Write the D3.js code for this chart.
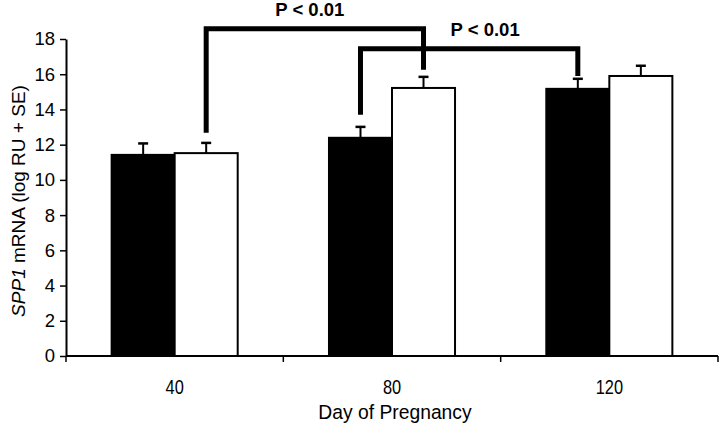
<!DOCTYPE html>
<html><head><meta charset="utf-8">
<script src="https://cdn.jsdelivr.net/npm/d3@7"></script>
<style>
html,body{margin:0;padding:0;background:#fff;}
svg{display:block;font-family:"Liberation Sans",Arial,sans-serif;}
</style></head>
<body>
<svg id="chart" width="720" height="426"></svg>
<script>
// ---- data ----
const days = ["40", "80", "120"];
const seriesNames = ["black", "white"];
const blackMeans = [11.42, 12.39, 15.17];
const blackSE    = [0.65, 0.62, 0.57];
const whiteMeans = [11.52, 15.22, 15.9];
const whiteSE    = [0.58, 0.63, 0.58];
const yTicks = [0, 2, 4, 6, 8, 10, 12, 14, 16, 18];
const yLabelItalic = "SPP1";
const yLabelRest = " mRNA (log RU + SE)";
const xLabel = "Day of Pregnancy";
// significance brackets: [dayIndex, seriesIndex] endpoints, leg bottoms and top (data units)
const brackets = [
  {from: [0, 1], to: [1, 1], fromY: 12.67, toY: 16.25, top: 18.58, label: "P < 0.01"},
  {from: [1, 0], to: [2, 0], fromY: 13.7, toY: 15.9, top: 17.44, label: "P < 0.01"}
];

(function () {
const svg = d3.select("#chart");
const pL = 66, pR = 718, pT = 39, pB = 356;

const x = d3.scaleBand().domain(days).range([pL, pR]).padding(0);
const y = d3.scaleLinear().domain([0, 18]).range([pB, pT]);
const barW = x.bandwidth() * 0.29;
const sub = d3.scaleBand().domain(seriesNames).range([-barW, barW]);

const rows = days.map((d, i) => ({day: d, vals: [
  {s: "black", v: blackMeans[i], se: blackSE[i]},
  {s: "white", v: whiteMeans[i], se: whiteSE[i]}
]}));

function cx(di, si) { return x(days[di]) + x.bandwidth() / 2 + sub(seriesNames[si]) + sub.bandwidth() / 2; }

const g = svg.append("g");
rows.forEach(r => {
  r.vals.forEach(b => {
    const bx = x(r.day) + x.bandwidth() / 2 + sub(b.s);
    const ex = bx + sub.bandwidth() / 2;
    g.append("line").attr("x1", ex).attr("x2", ex).attr("y1", y(b.v)).attr("y2", y(b.v + b.se))
      .attr("stroke", "#000").attr("stroke-width", 2);
    g.append("line").attr("x1", ex - 5).attr("x2", ex + 5).attr("y1", y(b.v + b.se)).attr("y2", y(b.v + b.se))
      .attr("stroke", "#000").attr("stroke-width", 2.5);
    g.append("rect").attr("x", bx).attr("y", y(b.v)).attr("width", sub.bandwidth())
      .attr("height", y(0) - y(b.v))
      .attr("fill", b.s === "black" ? "#000" : "#fff").attr("stroke", "#000").attr("stroke-width", 2);
  });
});

// ---- axes ----
const yAxis = d3.axisLeft(y).tickValues(yTicks).tickSize(6).tickSizeOuter(0).tickPadding(5);
const ya = svg.append("g").attr("transform", `translate(${pL},0)`).call(yAxis);
ya.select(".domain").attr("stroke-width", 2);
ya.selectAll(".tick line").attr("stroke-width", 1.5);
ya.selectAll("text").attr("font-size", 18.5).attr("fill", "#000").attr("font-family", "Liberation Sans, Arial, sans-serif");

const xa = svg.append("g").attr("transform", `translate(0,${pB})`);
xa.append("line").attr("x1", pL).attr("x2", pR).attr("y1", 0).attr("y2", 0).attr("stroke", "#000").attr("stroke-width", 2);
const bounds = days.map(d => x(d)).concat([pR]);
xa.selectAll("line.tk").data(bounds).enter().append("line").attr("class", "tk")
  .attr("x1", d => d).attr("x2", d => d).attr("y1", 0).attr("y2", 6).attr("stroke", "#000").attr("stroke-width", 1.5);
xa.selectAll("text").data(days).enter().append("text")
  .attr("transform", d => `translate(${x(d) + x.bandwidth() / 2},38) scale(0.82,1)`)
  .attr("text-anchor", "middle")
  .attr("font-size", 20).attr("fill", "#000").text(d => d);

svg.append("text").attr("x", 395).attr("y", 419).attr("text-anchor", "middle")
  .attr("font-size", 19.3).attr("fill", "#000").text(xLabel);

const yl = svg.append("text").attr("transform", `translate(25,201) rotate(-90)`).attr("text-anchor", "middle")
  .attr("font-size", 19).attr("fill", "#000");
yl.append("tspan").attr("font-style", "italic").text(yLabelItalic);
yl.append("tspan").text(yLabelRest);

// ---- brackets ----
const labelShift = [-5, 16];
brackets.forEach((b, i) => {
  const x1 = cx(b.from[0], b.from[1]), x2 = cx(b.to[0], b.to[1]);
  svg.append("path")
    .attr("d", d3.line()([[x1, y(b.fromY)], [x1, y(b.top)], [x2, y(b.top)], [x2, y(b.toY)]]))
    .attr("fill", "none").attr("stroke", "#000").attr("stroke-width", 5).attr("stroke-linejoin", "miter");
  svg.append("text").attr("x", (x1 + x2) / 2 + labelShift[i]).attr("y", y(b.top) - 13)
    .attr("text-anchor", "middle").attr("font-size", 18.5).attr("font-weight", "bold").attr("fill", "#000").text(b.label);
});
})();
</script>
</body></html>
